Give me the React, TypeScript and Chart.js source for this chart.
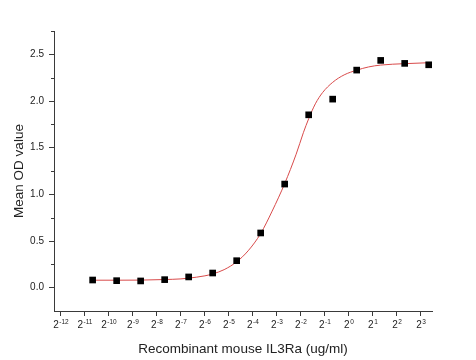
import React, { useEffect, useRef } from 'react';
import { Chart, registerables } from 'chart.js';

Chart.register(...registerables);

// Measured points: concentration (ug/ml) and mean OD
const concentrations = [
  10, 5, 2.5, 1.25, 0.625, 0.3125, 0.15625, 0.078125, 0.0390625, 0.01953125,
  0.009765625, 0.0048828125, 0.00244140625, 0.001220703125, 0.0006103515625,
];
const meanOD = [
  2.388, 2.403, 2.435, 2.331, 2.02, 1.852, 1.11, 0.586, 0.289, 0.157,
  0.115, 0.086, 0.072, 0.075, 0.082,
];

// Fitted curve
const fitConc = [
  0.00061035, 0.0012207, 0.0024414, 0.0048828, 0.0078125, 0.0097656, 0.015625,
  0.0195313, 0.0272, 0.0390625, 0.0544, 0.078125, 0.1088, 0.15625, 0.2176,
  0.268, 0.3125, 0.379, 0.4665, 0.625, 0.8706, 1.25, 1.765, 2.5, 5, 10,
];
const fitOD = [
  0.08, 0.08, 0.081, 0.087, 0.094, 0.102, 0.127,
  0.147, 0.193, 0.277, 0.395, 0.58, 0.82, 1.115, 1.43,
  1.66, 1.81, 1.97, 2.09, 2.2, 2.28, 2.33, 2.365, 2.385, 2.4, 2.41,
];

const xTickExponents = [-12, -11, -10, -9, -8, -7, -6, -5, -4, -3, -2, -1, 0, 1, 2, 3];
const yTickValues = [0, 0.5, 1, 1.5, 2, 2.5];
const yMinorTickValues = [0.25, 0.75, 1.25, 1.75, 2.25, 2.75];

const xTitle = 'Recombinant mouse IL3Ra (ug/ml)';
const yTitle = 'Mean OD value';

const FONT = '"Liberation Sans", Arial, sans-serif';
const AXIS = '#3a3a3a';
const TEXT = '#222';

const axisExtras = {
  id: 'axisExtras',
  afterDraw(chart: any) {
    const ctx = chart.ctx as CanvasRenderingContext2D;
    const xs = chart.scales.x;
    const ys = chart.scales.y;
    ctx.save();
    // minor ticks on y
    ctx.strokeStyle = AXIS;
    ctx.lineWidth = 1;
    yMinorTickValues.forEach((v) => {
      const py = Math.round(ys.getPixelForValue(v)) + 0.5;
      ctx.beginPath();
      ctx.moveTo(ys.right - 3, py);
      ctx.lineTo(ys.right, py);
      ctx.stroke();
    });
    // x tick labels with superscript exponent
    ctx.fillStyle = TEXT;
    ctx.textBaseline = 'alphabetic';
    ctx.textAlign = 'left';
    xs.ticks.forEach((t: any) => {
      const px = xs.getPixelForValue(t.value);
      const e = Math.round(Math.log2(t.value));
      const expStr = String(e);
      ctx.font = `10px ${FONT}`;
      const wb = ctx.measureText('2').width;
      ctx.font = `6.5px ${FONT}`;
      const we = ctx.measureText(expStr).width;
      const x0 = px - (wb + we + 0.5) / 2;
      ctx.font = `10px ${FONT}`;
      ctx.fillText('2', x0, xs.top + 17);
      ctx.font = `6.5px ${FONT}`;
      ctx.fillText(expStr, x0 + wb + 0.5, xs.top + 12.5);
    });
    ctx.restore();
  },
};

export default function App() {
  const ref = useRef<HTMLCanvasElement | null>(null);

  useEffect(() => {
    if (!ref.current) return;
    const chart = new Chart(ref.current, {
      type: 'scatter',
      data: {
        datasets: [
          {
            label: 'Mean OD',
            data: concentrations.map((c, i) => ({ x: c, y: meanOD[i] })),
            pointStyle: 'rect',
            pointRadius: 4.7,
            pointBackgroundColor: '#000',
            pointBorderColor: '#000',
            pointBorderWidth: 0,
            showLine: false,
            order: 1,
          },
          {
            label: 'Fit',
            data: fitConc.map((c, i) => ({ x: c, y: fitOD[i] })),
            showLine: true,
            pointRadius: 0,
            borderColor: '#d84a4a',
            borderWidth: 1,
            cubicInterpolationMode: 'monotone',
            order: 2,
          },
        ],
      },
      options: {
        responsive: false,
        animation: false,
        devicePixelRatio: 1,
        layout: { padding: { left: 0, top: 31, right: 44, bottom: 0 } },
        plugins: {
          legend: { display: false },
          tooltip: { enabled: false },
        },
        scales: {
          x: {
            type: 'logarithmic',
            min: 0.0002,
            max: 11,
            afterBuildTicks: (scale: any) => {
              scale.ticks = xTickExponents.map((e) => ({ value: Math.pow(2, e) }));
            },
            afterFit: (scale: any) => {
              scale.height = 49;
            },
            border: { display: true, color: AXIS, width: 1 },
            grid: {
              display: true,
              drawOnChartArea: false,
              drawTicks: true,
              tickLength: 5,
              tickColor: AXIS,
            },
            ticks: { display: false },
            title: {
              display: true,
              text: xTitle,
              color: TEXT,
              font: { family: FONT, size: 13.5 },
              padding: { top: 0, bottom: 3 },
            },
          },
          y: {
            type: 'linear',
            min: -0.25,
            max: 2.75,
            afterBuildTicks: (scale: any) => {
              scale.ticks = yTickValues.map((v) => ({ value: v }));
            },
            afterFit: (scale: any) => {
              scale.width = 54;
            },
            border: { display: true, color: AXIS, width: 1 },
            grid: {
              display: true,
              drawOnChartArea: false,
              drawTicks: true,
              tickLength: 5,
              tickColor: AXIS,
            },
            ticks: {
              color: TEXT,
              padding: 5,
              font: { family: FONT, size: 10 },
              callback: (v: any) => Number(v).toFixed(1),
            },
            title: {
              display: true,
              text: yTitle,
              color: TEXT,
              font: { family: FONT, size: 13.5 },
              padding: { top: 11, bottom: 0 },
            },
          },
        },
      },
      plugins: [axisExtras],
    } as any);
    return () => chart.destroy();
  }, []);

  return (
    <div style={{ position: 'absolute', left: 0, top: 0, width: 476, height: 360, background: '#fff' }}>
      <canvas ref={ref} width={476} height={360} style={{ display: 'block' }} />
    </div>
  );
}
